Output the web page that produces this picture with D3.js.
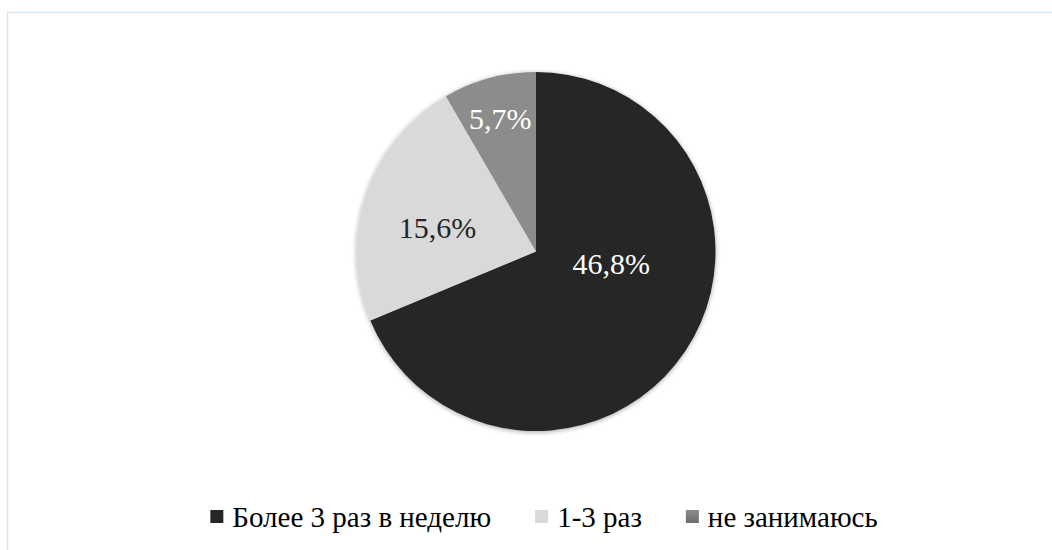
<!DOCTYPE html>
<html><head><meta charset="utf-8">
<script src="https://cdn.jsdelivr.net/npm/d3@7"></script>
</head><body style="margin:0">
<svg id="chart" width="1052" height="550"></svg>
<script>
const categories = ["Более 3 раз в неделю", "1-3 раз", "не занимаюсь"];
const values = [46.8, 15.6, 5.7];
const valueLabels = ["46,8%", "15,6%", "5,7%"];
const colors = ["#262626", "#d9d9d9", "url(#gradMid)"];
const swatchColors = ["#262626", "#d9d9d9", "url(#gradMidS)"];
const labelColors = ["#ffffff", "#262626", "#ffffff"];
// label placement (angle offset in degrees from slice middle, radius fraction)
const labelLayout = [{da: -24, rf: 0.425}, {da: -5, rf: 0.565}, {da: 0, rf: 0.765}];

const W = 1052, H = 550;
const cx = 536, cy = 251.5, R = 179.5;
const svg = d3.select("#chart");
const defs = svg.append("defs");
const g1 = defs.append("linearGradient").attr("id","gradMid").attr("gradientUnits","userSpaceOnUse")
  .attr("x1",0).attr("y1",cy-R).attr("x2",0).attr("y2",cy);
g1.append("stop").attr("offset","0%").attr("stop-color","#8c8c8c");
g1.append("stop").attr("offset","100%").attr("stop-color","#6c6c6c");
const g2 = defs.append("linearGradient").attr("id","gradMidS").attr("x1",0).attr("y1",0).attr("x2",0).attr("y2",1);
g2.append("stop").attr("offset","0%").attr("stop-color","#8c8c8c");
g2.append("stop").attr("offset","100%").attr("stop-color","#6c6c6c");
const f = defs.append("filter").attr("id","shadow").attr("x","-20%").attr("y","-20%").attr("width","140%").attr("height","140%");
f.append("feGaussianBlur").attr("in","SourceAlpha").attr("stdDeviation",2.5).attr("result","b");
f.append("feOffset").attr("in","b").attr("dx",0).attr("dy",1).attr("result","o");
f.append("feComponentTransfer").attr("in","o").attr("result","o2").append("feFuncA").attr("type","linear").attr("slope",0.35);
const fm = f.append("feMerge"); fm.append("feMergeNode").attr("in","o2"); fm.append("feMergeNode").attr("in","SourceGraphic");

// chart frame
svg.append("rect").attr("x",7.5).attr("y",12.5).attr("width",W+20).attr("height",H+20)
  .attr("fill","none").attr("stroke","#d5e3f1").attr("stroke-width",1.3);

const pie = d3.pie().sort(null).value(d => d);
const arcs = pie(values);
const arc = d3.arc().innerRadius(0).outerRadius(R);
svg.append("g").attr("transform",`translate(${cx},${cy})`).attr("filter","url(#shadow)")
  .selectAll("path").data(arcs).join("path")
  .attr("d", arc).attr("fill", (d,i) => colors[i]);

function labelXY(d, i) {
  const a = (d.startAngle + d.endAngle)/2 + labelLayout[i].da*Math.PI/180;
  const r = R*labelLayout[i].rf;
  return [cx + r*Math.sin(a), cy - r*Math.cos(a) + 10];
}
arcs.forEach((d, i) => {
  const [lx, ly] = labelXY(d, i);
  svg.append("text")
    .attr("style", "font-family: Liberation Serif, Tinos, Times, FreeSerif; font-size: 30px;")
    .attr("x", lx).attr("y", ly)
    .attr("text-anchor", "middle")
    .attr("fill", labelColors[i])
    .text(valueLabels[i]);
});

// legend
const fontL = 29, sq = 13, sqGap = 9, itemGap = 44, baseY = 527;
const legendTexts = categories.map((c, i) => svg.append("text")
  .attr("style", `font-family: Liberation Serif, Tinos, Times, FreeSerif; font-size: ${fontL}px;`)
  .attr("y", baseY).attr("fill", "#000").text(c));
const widths = legendTexts.map(t => t.node().getComputedTextLength());
const total = widths.reduce((s,w)=>s+w+sq+sqGap,0) + itemGap*(widths.length-1);
let x = 544 - total/2;
legendTexts.forEach((t, i) => {
  svg.append("rect").attr("x", x).attr("y", baseY-17).attr("width", sq).attr("height", sq)
    .attr("fill", swatchColors[i]);
  t.attr("x", x + sq + sqGap);
  x += sq + sqGap + widths[i] + itemGap;
});
</script>
</body></html>
